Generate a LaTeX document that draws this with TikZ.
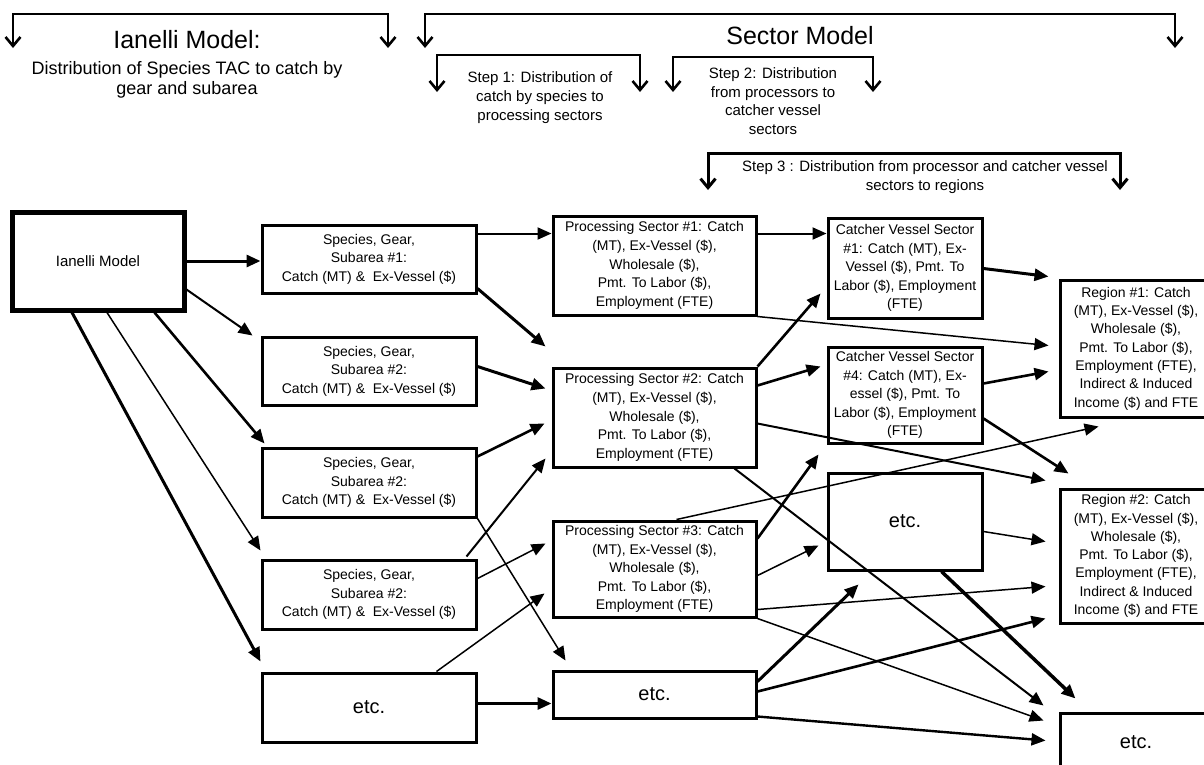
\documentclass[tikz,border=0pt]{standalone}
\usepackage{fontspec}
\setmainfont{Liberation Sans}
\usetikzlibrary{arrows.meta,calc}
\begin{document}
\begin{tikzpicture}[x=1pt,y=-1pt,
  box/.style={draw, line width=3pt, inner sep=0pt, align=center, font=\fontsize{14}{18.6}\selectfont},
  etcbox/.style={box, font=\fontsize{20}{24}\selectfont},
  lbl/.style={inner sep=0pt, align=center},
  con/.style={line width=#1, -{Triangle[length=14pt,width=12pt]}},
  con/.default=2pt,
  brk/.style={line width=2.6pt, {Straight Barb[length=9pt,width=15pt]}-{Straight Barb[length=9pt,width=15pt]}},
]
\fill[white] (0,0) rectangle (1204,764);
\useasboundingbox (0,0) rectangle (1204,764);

% ---------- brackets ----------
\coordinate (iL) at (13,48);  \coordinate (iR) at (388,48);
\coordinate (sL) at (425,48); \coordinate (sR) at (1175,48);
\coordinate (aL) at (437,92); \coordinate (aR) at (640,92);
\coordinate (bL) at (673,92); \coordinate (bR) at (873,92);
\coordinate (cL) at (708,190); \coordinate (cR) at (1120,190);
\draw[brk] (iL) -- (13,14) -| (iR);
\draw[brk] (sL) -- (425,14) -| (sR);
\draw[brk] (aL) -- (437,55) -| (aR);
\draw[brk] (bL) -- (673,57) -| (bR);
\draw[brk, line width=3pt] (cL) -- (708,153) -| (cR);

\node[lbl, font=\fontsize{25}{28}\selectfont] (tIan) at (187,40) {Ianelli Model:};
\node[lbl, font=\fontsize{18}{20}\selectfont] (tIanSub) at (187,80) {Distribution of Species TAC to catch by\\gear and subarea};
\node[lbl, font=\fontsize{25}{28}\selectfont] (tSec) at (800,36) {Sector Model};
\node[lbl, font=\fontsize{15}{19}\selectfont] (tS1) at (540,98) {Step 1: Distribution of\\catch by species to\\processing sectors};
\node[lbl, font=\fontsize{15}{18.6}\selectfont] (tS2) at (773,101) {Step 2: Distribution\\from processors to\\catcher vessel\\sectors};
\node[lbl, font=\fontsize{15}{19}\selectfont] (tS3) at (925,177.5) {Step 3 : Distribution from processor and catcher vessel\\sectors to regions};

% ---------- boxes ----------
\node[box, line width=5pt, font=\fontsize{15}{18}\selectfont, minimum width=172pt, minimum height=98pt] (Ian) at (98,261) {Ianelli Model};

\node[box, minimum width=214pt, minimum height=68pt] (S1) at (369,259) {Species, Gear,\\Subarea \#1:\\Catch (MT) \&\ \ Ex-Vessel (\$)};
\node[box, minimum width=214pt, minimum height=68pt] (S2) at (369,371) {Species, Gear,\\Subarea \#2:\\Catch (MT) \&\ \ Ex-Vessel (\$)};
\node[box, minimum width=214pt, minimum height=69pt] (S3) at (369,482.5) {Species, Gear,\\Subarea \#2:\\Catch (MT) \&\ \ Ex-Vessel (\$)};
\node[box, minimum width=214pt, minimum height=69pt] (S4) at (369,594.5) {Species, Gear,\\Subarea \#2:\\Catch (MT) \&\ \ Ex-Vessel (\$)};
\node[etcbox, minimum width=214pt, minimum height=69pt] (Se) at (369,707.5) {etc.};

\node[box, minimum width=203pt, minimum height=99pt] (P1) at (654.5,265.5) {Processing Sector \#1: Catch\\(MT), Ex-Vessel (\$),\\Wholesale (\$),\\Pmt. To Labor (\$),\\Employment (FTE)};
\node[box, minimum width=203pt, minimum height=99pt] (P2) at (654.5,417.5) {Processing Sector \#2: Catch\\(MT), Ex-Vessel (\$),\\Wholesale (\$),\\Pmt. To Labor (\$),\\Employment (FTE)};
\node[box, minimum width=203pt, minimum height=96pt] (P3) at (654.5,569) {Processing Sector \#3: Catch\\(MT), Ex-Vessel (\$),\\Wholesale (\$),\\Pmt. To Labor (\$),\\Employment (FTE)};
\node[etcbox, minimum width=203pt, minimum height=47pt] (Pe) at (654.5,694.5) {etc.};

\node[box, minimum width=154pt, minimum height=100pt] (C1) at (905,268) {Catcher Vessel Sector\\\#1: Catch (MT), Ex-\\Vessel (\$), Pmt. To\\Labor (\$), Employment\\(FTE)};
\node[box, minimum width=154pt, minimum height=96pt] (C4) at (905,395) {Catcher Vessel Sector\\\#4: Catch (MT), Ex-\\essel (\$), Pmt. To\\Labor (\$), Employment\\(FTE)};
\node[etcbox, minimum width=154pt, minimum height=97pt] (Ce) at (905,521.5) {etc.};

\node[box, minimum width=152pt, minimum height=137pt, font=\fontsize{14}{18.3}\selectfont] (R1) at (1136,348.5) {Region \#1: Catch\\(MT), Ex-Vessel (\$),\\Wholesale (\$),\\Pmt. To Labor (\$),\\Employment (FTE),\\Indirect \& Induced\\Income (\$) and FTE};
\node[box, minimum width=152pt, minimum height=134pt, font=\fontsize{14}{18.3}\selectfont] (R2) at (1136,556) {Region \#2: Catch\\(MT), Ex-Vessel (\$),\\Wholesale (\$),\\Pmt. To Labor (\$),\\Employment (FTE),\\Indirect \& Induced\\Income (\$) and FTE};
\node[etcbox, minimum width=152pt, minimum height=58pt] (Re) at (1136,742) {etc.};

% ---------- connectors: Ianelli -> species ----------
\draw[con=3pt] (Ian.east) -- (Ian.east -| S1.west);
\draw[con=2pt] ([yshift=-80pt]Ian.north east) -- ([xshift=-8pt]S2.north west);
\draw[con=2.6pt] ([xshift=-32pt]Ian.south east) -- ([xshift=4pt,yshift=3pt]S3.north west);
\draw[con=1.5pt] ([xshift=9pt]Ian.south) -- ([yshift=8pt]S4.north west);
\draw[con=3pt] ([xshift=-26pt]Ian.south) -- ([yshift=10pt]Se.north west);

% ---------- species -> processing ----------
\draw[con=2pt] ([yshift=-10pt]S1.north east) -- ([yshift=-10pt]S1.north east -| P1.west);
\draw[con=3pt] ([yshift=6pt]S1.south east) -- ([xshift=-6pt,yshift=20pt]P2.north west);
\draw[con=3pt] ([yshift=-31pt]S2.north east) -- ([xshift=-6pt,yshift=-22pt]P2.north west);
\draw[con=2.6pt] ([yshift=-10pt]S3.north east) -- ([xshift=-7pt,yshift=-57pt]P2.north west);
\draw[con=1.5pt] (S3.south east) -- ([xshift=14pt,yshift=9pt]Pe.north west);
\draw[con=2pt] ([xshift=-11pt,yshift=2pt]S4.north east) -- ([xshift=-6pt,yshift=10pt]P2.south west);
\draw[con=1.5pt] ([yshift=-20pt]S4.north east) -- ([xshift=-6pt,yshift=-24pt]P3.north west);
\draw[con=1.5pt] ([xshift=-41pt]Se.north east) -- ([xshift=-7pt,yshift=25pt]P3.south west);
\draw[con=3pt] ([yshift=-32pt]Se.north east) -- ([yshift=-32pt]Se.north east -| Pe.west);

% ---------- processing -> catcher / regions ----------
\draw[con=2pt] ([yshift=-19pt]P1.north east) -- ([yshift=-17pt]C1.north west);
\draw[con=1.5pt] (P1.south east) -- ([xshift=-10pt,yshift=-67pt]R1.north west);
\draw[con=2.6pt] (P2.north east) -- ([xshift=-6pt,yshift=26pt]C1.south west);
\draw[con=2.6pt] ([yshift=-19pt]P2.north east) -- ([xshift=-6pt,yshift=-21pt]C4.north west);
\draw[con=2pt] ([yshift=-57pt]P2.north east) -- ([xshift=-13pt,yshift=7pt]R2.north west);
\draw[con=2pt] ([xshift=-23pt]P2.south east) -- ([xshift=-15pt,yshift=6pt]Re.north west);
\draw[con=1.5pt] ([xshift=-81pt]P3.north east) -- ([xshift=40pt,yshift=-8pt]R1.south west);
\draw[con=2.6pt] ([yshift=-19pt]P3.north east) -- ([xshift=-8pt,yshift=-10pt]C4.south west);
\draw[con=1.5pt] ([yshift=-56pt]P3.north east) -- ([xshift=-8pt,yshift=-74pt]Ce.north west);
\draw[con=1.5pt] ([yshift=9pt]P3.south east) -- ([xshift=-13pt,yshift=-99pt]R2.north west);
\draw[con=1.5pt] (P3.south east) -- ([xshift=-15pt,yshift=-9pt]Re.north west);
\draw[con=3pt] ([yshift=-12pt]Pe.north east) -- ([xshift=32pt,yshift=-13pt]Ce.south west);
\draw[con=2.6pt] ([yshift=-22pt]Pe.north east) -- ([xshift=-13pt,yshift=6pt]R2.south west);
\draw[con=2.4pt] ([yshift=3pt]Pe.south east) -- ([xshift=-13pt,yshift=-29pt]Re.north west);

% ---------- catcher -> regions ----------
\draw[con=3pt] ([yshift=-52pt]C1.north east) -- ([xshift=-10pt,yshift=2pt]R1.north west);
\draw[con=2.6pt] ([yshift=-38pt]C4.north east) -- ([xshift=-10pt,yshift=-93pt]R1.north west);
\draw[con=2.6pt] ([yshift=26pt]C4.south east) -- ([xshift=10pt,yshift=14pt]R2.north west);
\draw[con=1.5pt] ([yshift=-60pt]Ce.north east) -- ([xshift=-13pt,yshift=-54pt]R2.north west);
\draw[con=3.5pt] ([xshift=-42pt]Ce.south east) -- ([xshift=17pt,yshift=13pt]Re.north west);
\end{tikzpicture}
\end{document}
